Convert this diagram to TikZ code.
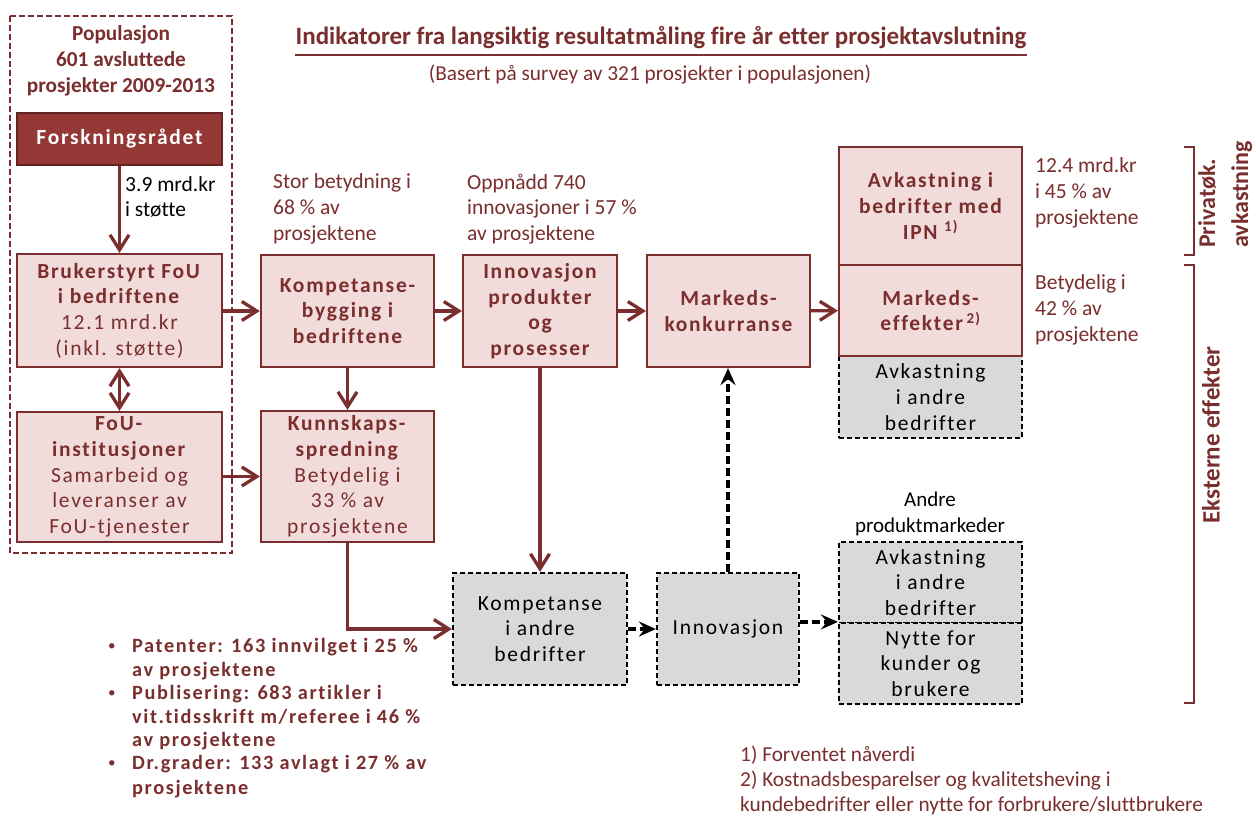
\documentclass[tikz,border=0pt]{standalone}
\usepackage{fontspec}
\setmainfont[Ligatures=NoCommon]{Carlito}
\newfontfamily\boxfam[LetterSpace=8,Ligatures=NoCommon]{Carlito}
\newfontfamily\bulfam[LetterSpace=8,Ligatures=NoCommon]{Carlito}
\usetikzlibrary{arrows.meta}
\definecolor{dred}{HTML}{7A2E2D}
\definecolor{pinkf}{HTML}{F2DCDB}
\definecolor{darkbox}{HTML}{953735}
\definecolor{grayf}{HTML}{D9D9D9}
\newcommand\bxfont{\boxfam\fontsize{21.5}{25.7}\selectfont}
\newcommand\lbfont{\fontsize{21.5}{25.7}\selectfont}
\tikzset{
 box/.style={draw=dred, line width=2.2pt, fill=pinkf, text=dred, align=center, inner sep=0pt, font=\bxfont},
 gbox/.style={draw=black, dash pattern=on 5pt off 3pt, line width=2.2pt, fill=grayf, text=black, align=center, inner sep=0pt, font=\bxfont},
 rtip/.tip={Straight Barb[length=15pt,width=19pt,line width=3.3pt]},
 arr/.style={draw=dred, line width=3.3pt, -rtip},
 darr/.style={draw=black, line width=3.3pt, dash pattern=on 8pt off 4pt, -{Stealth[length=17pt,width=15pt,inset=6pt]}},
 lbl/.style={text=dred, align=left, inner sep=0pt, font=\lbfont},
 brk/.style={draw=dred, line width=2.4pt},
}
\begin{document}
\begin{tikzpicture}[x=1pt,y=-1pt]
\useasboundingbox[fill=white] (0,0) rectangle (1256,815);

% population frame
\draw[dred, line width=2pt, dash pattern=on 6pt off 3pt] (10,16) rectangle (232,553);
\node[text=dred, align=center, inner sep=0pt, font=\bfseries\fontsize{21.3}{26}\selectfont] (pop) at (121,61) {Populasjon\\601 avsluttede\\prosjekter 2009-2013};

% title
\node[text=dred, inner sep=0pt, font=\bfseries\fontsize{25}{30}\selectfont] (title) at (661,38) {Indikatorer fra langsiktig resultatmåling fire år etter prosjektavslutning};
\draw[dred, line width=2.2pt] (title.south west |- 0,55) -- (title.south east |- 0,55);
\node[text=dred, inner sep=0pt, font=\fontsize{21.3}{25}\selectfont] (sub) at (650,75) {(Basert på survey av 321 prosjekter i populasjonen)};

% boxes
\node[box, fill=darkbox, draw=dred!80!black, text=white, minimum width=205pt, minimum height=52pt, font=\bxfont\bfseries] (forsk) at (119.5,139) {Forskningsrådet};
\node[box, minimum width=205pt, minimum height=113pt] (bru) at (119.5,310.5) {\textbf{Brukerstyrt FoU}\\\textbf{i bedriftene}\\12.1 mrd.kr\\(inkl. støtte)};
\node[box, minimum width=205pt, minimum height=130pt] (fou) at (119.5,477) {\textbf{FoU-}\\\textbf{institusjoner}\\Samarbeid og\\leveranser av\\FoU-tjenester};
\node[box, minimum width=173pt, minimum height=112pt, font=\bxfont\bfseries] (komp) at (347.5,311) {Kompetanse-\\bygging i\\bedriftene};
\node[box, minimum width=173pt, minimum height=131pt] (kunn) at (347.5,476.5) {\textbf{Kunnskaps-}\\\textbf{spredning}\\Betydelig i\\33 \% av\\prosjektene};
\node[box, minimum width=154pt, minimum height=112pt, font=\bxfont\bfseries] (inn) at (540,311) {Innovasjon\\produkter\\og\\prosesser};
\node[box, minimum width=163pt, minimum height=112pt, font=\bxfont\bfseries] (mark) at (728.5,311) {Markeds-\\konkurranse};
\node[gbox, minimum width=183pt, minimum height=82pt] (avk2) at (930.5,397) {Avkastning\\i andre\\bedrifter};
\node[box, minimum width=183pt, minimum height=118pt, font=\bxfont\bfseries] (avk) at (930.5,206) {Avkastning i\\bedrifter med\\IPN \textsuperscript{1)}};
\node[box, minimum width=183pt, minimum height=91pt, font=\bxfont\bfseries] (meff) at (930.5,310.5) {Markeds-\\effekter\,\textsuperscript{2)}};

\node[gbox, minimum width=174pt, minimum height=112pt] (kand) at (540,629) {Kompetanse\\i andre\\bedrifter};
\node[gbox, minimum width=142pt, minimum height=112pt] (innb) at (728,629) {Innovasjon};
\node[gbox, minimum width=183pt, minimum height=81pt] (avk3) at (930.5,582.5) {Avkastning\\i andre\\bedrifter};
\node[gbox, minimum width=183pt, minimum height=81pt] (nytte) at (930.5,663.5) {Nytte for\\kunder og\\brukere};
\node[inner sep=0pt, align=center, font=\fontsize{21}{25.7}\selectfont] (andre) at (930,514) {Andre\\produktmarkeder};

% labels
\node[lbl, text=black, anchor=west] (stotte) at (125,197) {3.9 mrd.kr\\i støtte};
\node[lbl, anchor=west] (l68) at (273,209) {Stor betydning i\\68 \% av\\prosjektene};
\node[lbl, anchor=west] (l57) at (467,209) {Oppnådd 740\\innovasjoner i 57 \%\\av prosjektene};
\node[lbl, anchor=west] (l45) at (1035,193) {12.4 mrd.kr\\i 45 \% av\\prosjektene};
\node[lbl, anchor=west] (l42) at (1035,310) {Betydelig i\\42 \% av\\prosjektene};

% brackets
\coordinate (p1) at (1184,147); \coordinate (p2) at (1194,147);
\coordinate (p3) at (1194,255); \coordinate (p4) at (1184,255);
\draw[brk] (p1) -- (p2) -- (p3) -- (p4);
\coordinate (e1) at (1184,265); \coordinate (e2) at (1194,265);
\coordinate (e3) at (1194,703); \coordinate (e4) at (1184,703);
\draw[brk] (e1) -- (e2) -- (e3) -- (e4);
\node[rotate=90, text=dred, align=left, inner sep=0pt, anchor=north west, font=\bfseries\fontsize{24}{33}\selectfont] (priv) at (1198,248) {Privatøk.\\avkastning};
\node[rotate=90, text=dred, inner sep=0pt, font=\bfseries\fontsize{25}{30}\selectfont] (ekst) at (1211,435) {Eksterne effekter};

% connectors
\draw[arr] (forsk) -- (bru);
\draw[draw=dred, line width=3.3pt, rtip-rtip] (bru) -- (fou);
\draw[arr] (bru.east |- komp.west) -- (komp.west);
\draw[arr] (fou.east |- kunn.west) -- (kunn.west);
\draw[arr] (komp) -- (kunn);
\draw[arr] (komp) -- (inn);
\draw[arr] (inn) -- (mark);
\draw[arr] (mark) -- (meff);
\draw[arr] (inn.south) -- (kand.north);
\draw[arr] (kunn.south) |- (kand.west);
\draw[darr] (kand) -- (innb);
\draw[darr] (innb.north) -- (innb.north |- mark.south);
\draw[darr] (innb.east |- nytte.north west) -- (nytte.north west);

% bullets
\begin{scope}[every node/.style={text=dred, inner sep=0pt, anchor=west, font=\bulfam\bfseries\fontsize{20.3}{23.5}\selectfont}]
\node[font=\fontsize{15}{15}\selectfont] (b1) at (108,647) {•};
\node (t1a) at (132,647) {Patenter: 163 innvilget i 25 \%};
\node (t1b) at (132,671) {av prosjektene};
\node[font=\fontsize{15}{15}\selectfont] (b2) at (108,694) {•};
\node (t2a) at (132,694) {Publisering: 683 artikler i};
\node (t2b) at (132,717) {vit.tidsskrift m/referee i 46 \%};
\node (t2c) at (132,741) {av prosjektene};
\node[font=\fontsize{15}{15}\selectfont] (b3) at (108,764) {•};
\node (t3a) at (132,764) {Dr.grader: 133 avlagt i 27 \% av};
\node (t3b) at (132,789) {prosjektene};
\end{scope}

% footnotes
\begin{scope}[every node/.style={text=dred, inner sep=0pt, anchor=west, font=\fontsize{21.3}{25}\selectfont}]
\node (f1) at (740,755) {1) Forventet nåverdi};
\node (f2) at (740,781) {2) Kostnadsbesparelser og kvalitetsheving i};
\node (f3) at (740,806) {kundebedrifter eller nytte for forbrukere/sluttbrukere};
\end{scope}
\end{tikzpicture}
\end{document}
